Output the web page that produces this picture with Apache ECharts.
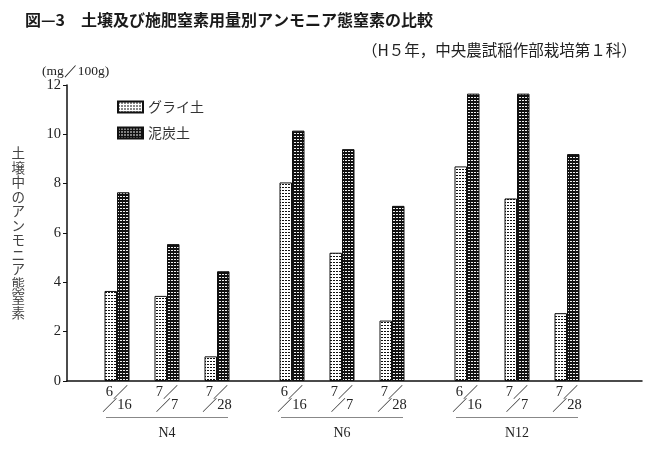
<!DOCTYPE html>
<html>
<head>
<meta charset="utf-8">
<script src="https://cdn.jsdelivr.net/npm/echarts@6/dist/echarts.min.js"></script>
<style>
  html, body { margin: 0; padding: 0; background: #fff; }
  #chart { width: 657px; height: 454px; }
</style>
</head>
<body>
<div id="chart"></div>
<script>
// データ
var dates = ['6/16', '7/7', '7/28'];
var groups = ['N4', 'N6', 'N12'];
var seriesNames = ['グライ土', '泥炭土'];
var gley = [3.65, 3.45, 1.0, 8.05, 5.2, 2.45, 8.7, 7.4, 2.75];
var peat = [7.65, 5.55, 4.45, 10.15, 9.4, 7.1, 11.65, 11.65, 9.2];
var yTicks = [0, 2, 4, 6, 8, 10, 12];
var yName = '土壌中のアンモニア態窒素';

var serif = '"Liberation Serif", "DejaVu Serif", serif';
var jp = '"Noto Sans CJK JP", sans-serif';

// 模様（網掛け）
function makePattern(bg, fg, cells) {
  var c = document.createElement('canvas');
  c.width = 3; c.height = 3;
  var ctx = c.getContext('2d');
  ctx.fillStyle = bg;
  ctx.fillRect(0, 0, 3, 3);
  ctx.fillStyle = fg;
  cells.forEach(function(p) { ctx.fillRect(p[0], p[1], p[2], p[3]); });
  return { image: c, repeat: 'repeat' };
}
var gleyPattern = makePattern('#ffffff', '#111111', [[1, 1, 1, 1], [0, 1, 1, 1]]);
var peatPattern = makePattern('#111111', '#f0f0f0', [[0, 1, 2, 1]]);

// カテゴリ（空きスロット込み）
var cats = ['', ''];
var gleyData = ['-', '-'];
var peatData = ['-', '-'];
var groupCats = ['', ''];
groups.forEach(function(g, gi) {
  dates.forEach(function(d, di) {
    var k = gi * dates.length + di;
    cats.push(d);
    gleyData.push(gley[k]);
    peatData.push(peat[k]);
    groupCats.push(di === 1 ? g : '');
    if (di < dates.length - 1) {
      cats.push(''); gleyData.push('-'); peatData.push('-'); groupCats.push('');
    }
  });
  var pad = gi < groups.length - 1 ? 2 : 3;
  for (var i = 0; i < pad; i++) {
    cats.push(''); gleyData.push('-'); peatData.push('-'); groupCats.push('');
  }
});

var chart = echarts.init(document.getElementById('chart'));

var option = {
  backgroundColor: '#fff',
  animation: false,
  title: [{
    text: '図—3　土壌及び施肥窒素用量別アンモニア態窒素の比較',
    left: 20, top: 7,
    textStyle: { fontFamily: jp, fontSize: 16, fontWeight: 'bold', color: '#1a1a1a' }
  }, {
    text: '（H５年，中央農試稲作部栽培第１科）',
    left: 357, top: 37,
    textStyle: { fontFamily: jp, fontSize: 15.5, fontWeight: 'normal', color: '#222' }
  }, {
    text: '(mg／100g)',
    left: 37, top: 59,
    textStyle: { fontFamily: serif, fontSize: 13.5, fontWeight: 'normal', color: '#222' }
  }],
  legend: {
    left: 112, top: 95,
    orient: 'vertical',
    itemWidth: 25, itemHeight: 11,
    itemGap: 12,
    icon: 'rect',
    textStyle: { fontFamily: jp, fontSize: 14, color: '#333' },
    data: seriesNames
  },
  grid: { left: 67, right: 15, top: 85, bottom: 73 },
  xAxis: [{
    type: 'category',
    data: cats,
    boundaryGap: false,
    axisLine: { lineStyle: { color: '#111', width: 1.5 } },
    axisTick: { show: false },
    axisLabel: {
      interval: 0,
      margin: 5,
      formatter: function(v) {
        if (!v) return '';
        var p = v.split('/');
        return '{n|' + p[0] + '}{s|／}\n{s|／}{d|' + p[1] + '}';
      },
      rich: {
        n: { fontFamily: serif, fontSize: 14.5, color: '#222', lineHeight: 13 },
        d: { fontFamily: serif, fontSize: 14.5, color: '#222', lineHeight: 13 },
        s: { fontFamily: jp, fontSize: 15, color: '#333', lineHeight: 13 }
      }
    },
    splitLine: { show: false }
  }, {
    type: 'category',
    data: groupCats,
    boundaryGap: false,
    position: 'bottom',
    axisLine: { show: false },
    axisTick: { show: false },
    axisLabel: {
      interval: 0,
      margin: 36,
      formatter: function(v) {
        if (!v) return '';
        return '{l| }\n{g|' + v + '}';
      },
      rich: {
        l: { width: 122, height: 1, lineHeight: 1, fontSize: 1, backgroundColor: '#888' },
        g: { fontFamily: serif, fontSize: 14, color: '#222', lineHeight: 22, verticalAlign: 'bottom' }
      }
    }
  }],
  yAxis: {
    type: 'value',
    min: yTicks[0],
    max: yTicks[yTicks.length - 1],
    interval: yTicks[1] - yTicks[0],
    name: yName.split('').join('\n'),
    nameLocation: 'middle',
    nameRotate: 0,
    nameGap: 42,
    nameTextStyle: { fontFamily: jp, fontSize: 13.5, lineHeight: 14.5, color: '#444' },
    axisLine: { show: true, lineStyle: { color: '#111', width: 1.5 } },
    axisTick: { show: true, length: 4, lineStyle: { color: '#111' } },
    axisLabel: { fontFamily: serif, fontSize: 14.5, color: '#222', margin: 6 },
    splitLine: { show: false }
  },
  series: [{
    name: seriesNames[0],
    type: 'bar',
    data: gleyData,
    barWidth: 12.5,
    barGap: '0%',
    itemStyle: { color: gleyPattern, borderColor: '#111', borderWidth: 1 }
  }, {
    name: seriesNames[1],
    type: 'bar',
    data: peatData,
    barWidth: 12.5,
    barGap: '0%',
    itemStyle: { color: peatPattern, borderColor: '#111', borderWidth: 1 }
  }]
};

chart.setOption(option);
</script>
</body>
</html>
